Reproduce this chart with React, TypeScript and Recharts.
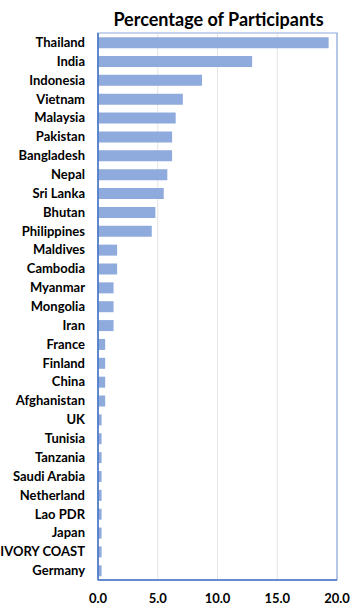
import React from 'react';
import { BarChart, Bar, XAxis, YAxis, CartesianGrid, ReferenceArea } from 'recharts';

const countries = [
  'Thailand', 'India', 'Indonesia', 'Vietnam', 'Malaysia', 'Pakistan', 'Bangladesh',
  'Nepal', 'Sri Lanka', 'Bhutan', 'Philippines', 'Maldives', 'Cambodia', 'Myanmar',
  'Mongolia', 'Iran', 'France', 'Finland', 'China', 'Afghanistan', 'UK', 'Tunisia',
  'Tanzania', 'Saudi Arabia', 'Netherland', 'Lao PDR', 'Japan', 'IVORY COAST', 'Germany',
];

const percentages = [
  19.3, 12.9, 8.7, 7.1, 6.5, 6.2, 6.2,
  5.8, 5.5, 4.8, 4.5, 1.6, 1.6, 1.3,
  1.3, 1.3, 0.6, 0.6, 0.6, 0.6, 0.3, 0.3,
  0.3, 0.3, 0.3, 0.3, 0.3, 0.3, 0.3,
];

const xTicks = [0, 5, 10, 15, 20];

const data = countries.map((name, i) => ({ name, value: percentages[i] }));

const font = 'Lato, "Open Sans", sans-serif';

// plain svg text so long names never wrap
const CountryTick = (props: any) => {
  const { x, y, payload } = props;
  return (
    <text x={x} y={y} dy="0.35em" textAnchor="end" fill="#000" fontSize={13} fontWeight={700} fontFamily={font}>
      {payload.value}
    </text>
  );
};

const App: React.FC = () => {
  return (
    <div style={{ position: 'absolute', left: 0, top: 0, width: 358, height: 616, background: '#fff' }}>
      <div
        style={{
          position: 'absolute',
          left: 98,
          width: 241,
          top: 8,
          textAlign: 'center',
          fontFamily: font,
          fontWeight: 700,
          fontSize: 18,
          color: '#000',
        }}
      >
        Percentage of Participants
      </div>
      <BarChart
        width={358}
        height={616}
        data={data}
        layout="vertical"
        margin={{ top: 33, right: 21, bottom: 0, left: 0 }}
        barCategoryGap="22%"
      >
        <CartesianGrid horizontal={false} stroke="#e4e4e4" />
        <ReferenceArea x1={0} x2={20} stroke="#8faadc" strokeWidth={1.2} fill="none" fillOpacity={0} />
        <XAxis
          type="number"
          domain={[0, 20]}
          ticks={xTicks}
          tickFormatter={(v: number) => v.toFixed(1)}
          axisLine={{ stroke: '#4472c4', strokeWidth: 1.5 }}
          tickLine={false}
          tickSize={0}
          tickMargin={14}
          height={36}
          tick={{ fill: '#000', fontSize: 13, fontWeight: 700, fontFamily: font }}
        />
        <YAxis
          type="category"
          dataKey="name"
          width={98}
          interval={0}
          axisLine={{ stroke: '#4472c4', strokeWidth: 1.5 }}
          tickLine={false}
          tickSize={0}
          tickMargin={13}
          tick={<CountryTick />}
        />
        <Bar dataKey="value" fill="#8faadc" isAnimationActive={false} />
      </BarChart>
    </div>
  );
};

export default App;
